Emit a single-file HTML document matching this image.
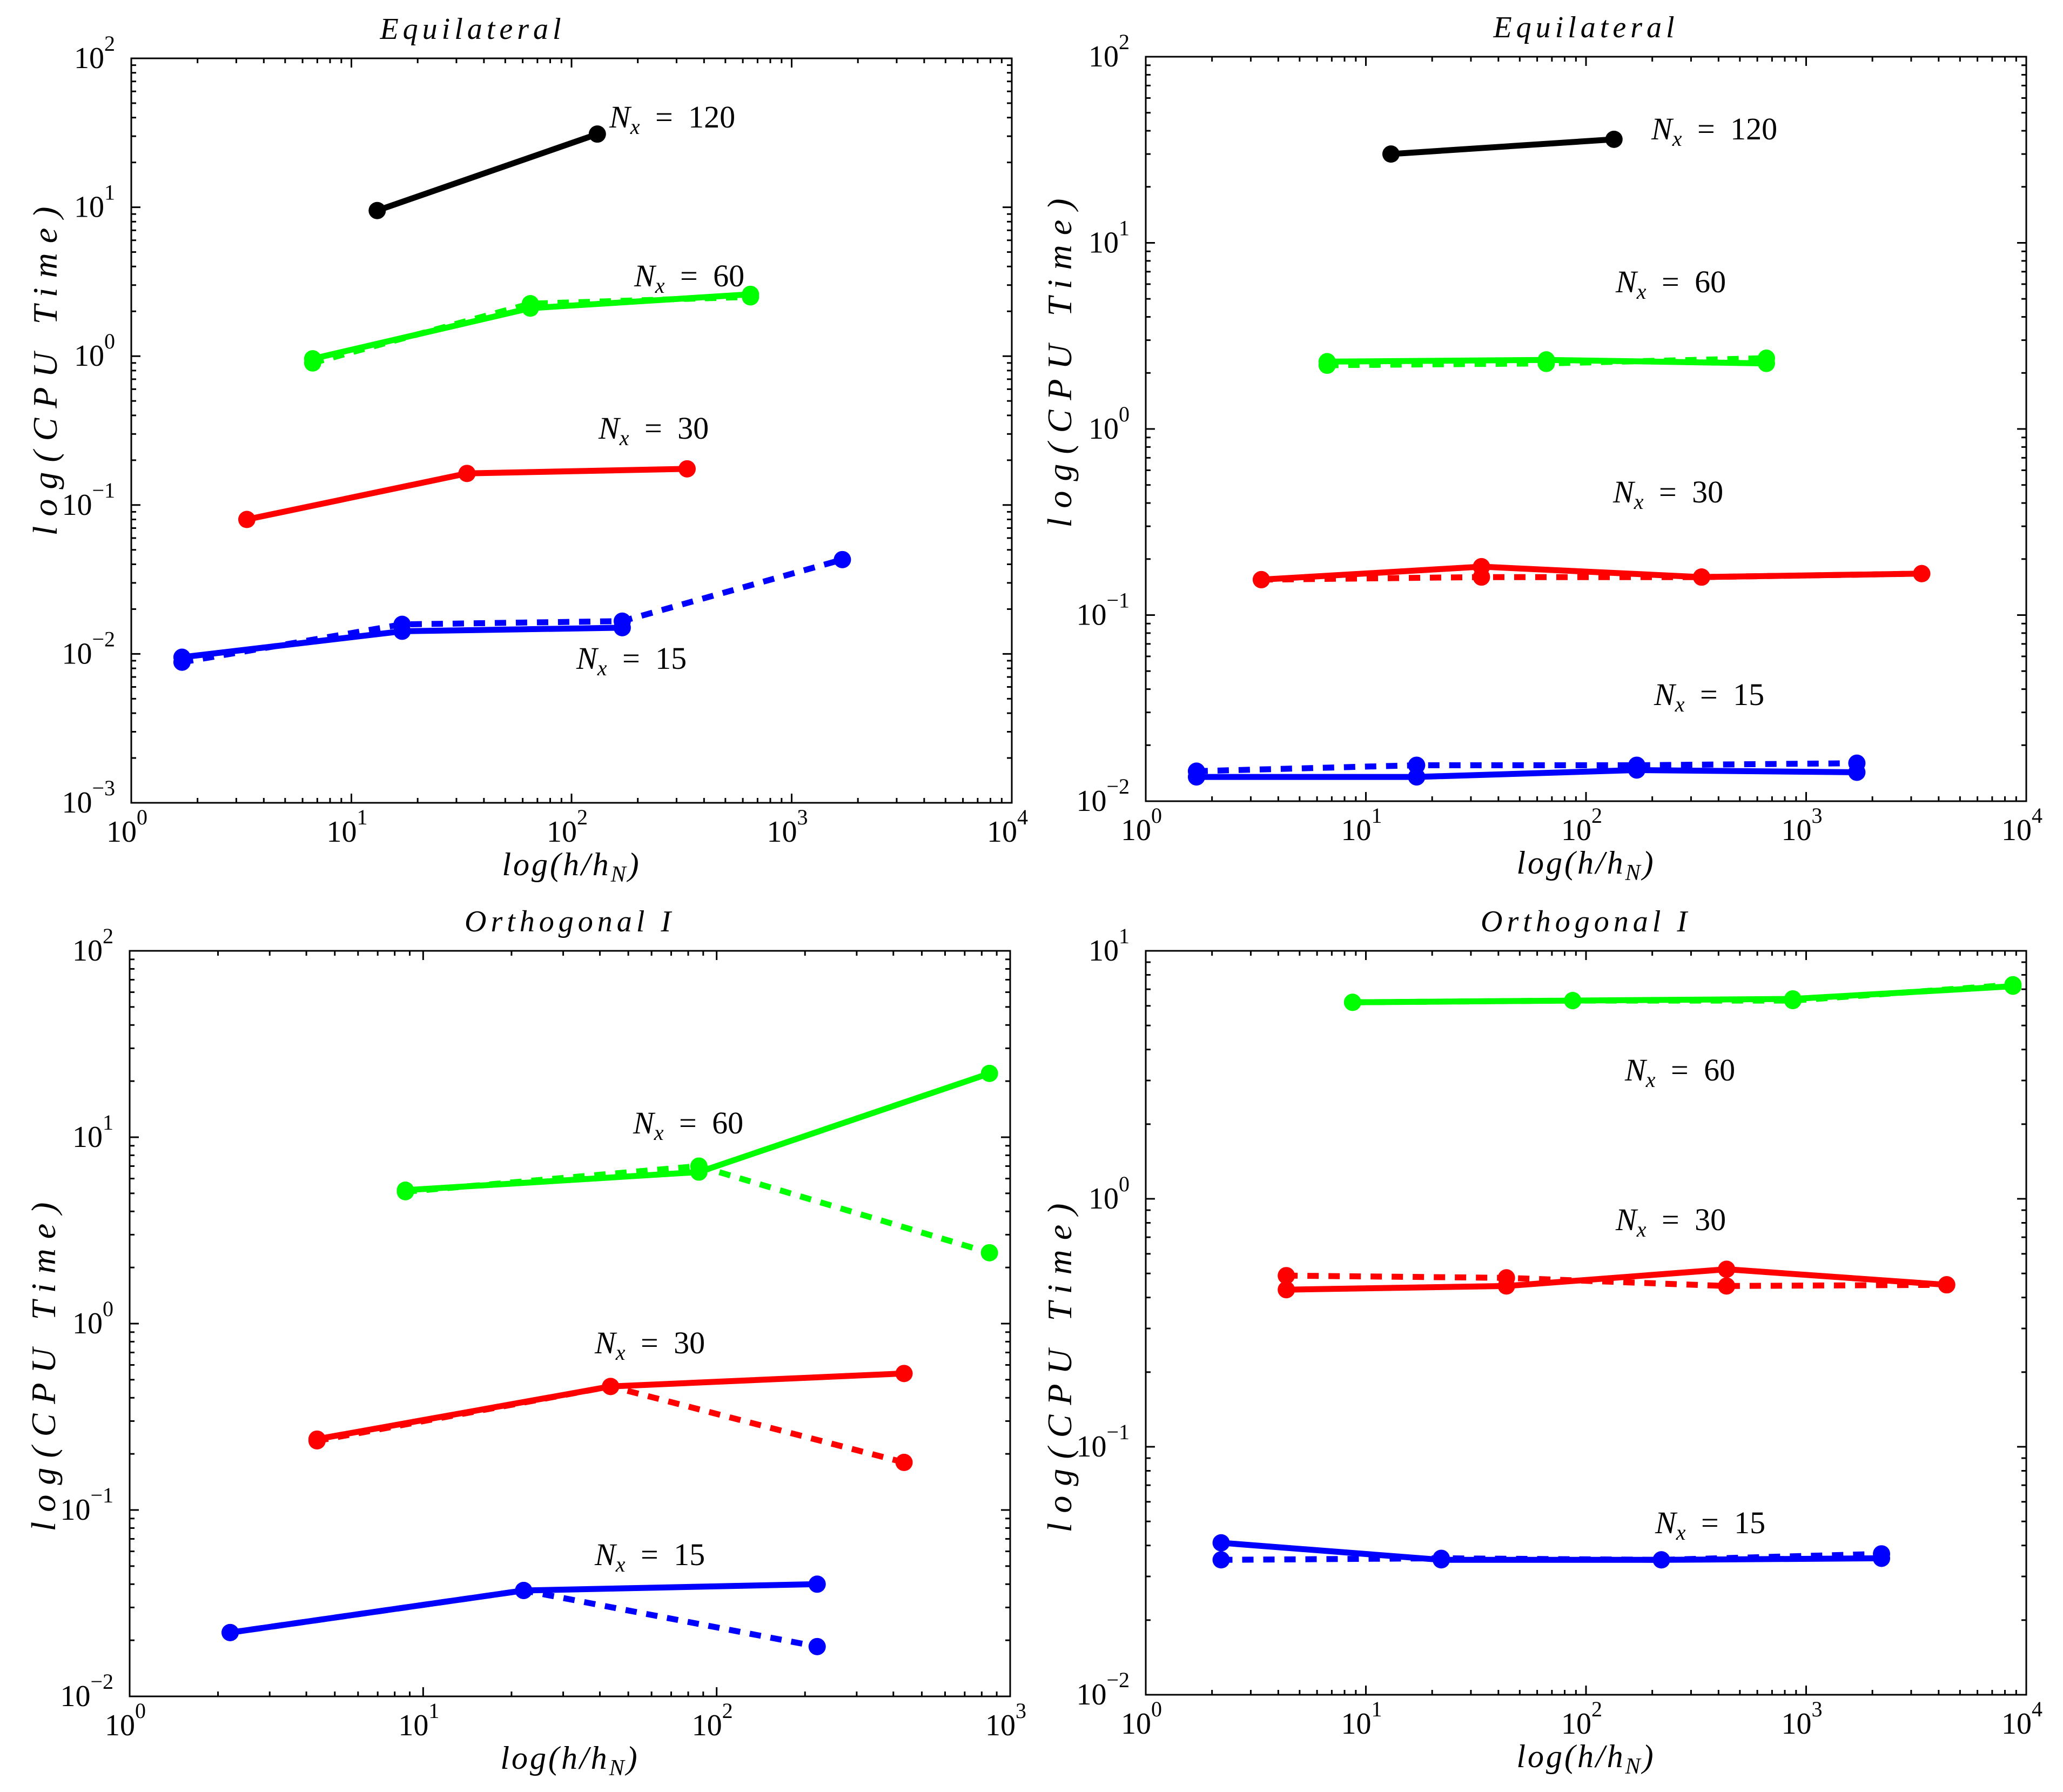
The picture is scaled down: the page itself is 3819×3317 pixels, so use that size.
<!DOCTYPE html>
<html><head><meta charset="utf-8"><style>
html,body{margin:0;padding:0;background:#fff;}
svg{display:block;}
text{font-family:"Liberation Serif",serif;fill:#000;}
</style></head><body>
<svg id="fig" xmlns="http://www.w3.org/2000/svg" width="3819" height="3317" viewBox="0 0 3819 3317"></svg>
<script>
// ---------- data (x = h/h_N, y = CPU time) ----------
// Panel A: top-left, Equilateral
const aBlackX = [13.1, 131];            const aBlackY = [9.5, 31];
const aGreenX = [6.67, 65, 650];        const aGreenSolid = [0.96, 2.1, 2.6]; const aGreenDash = [0.9, 2.25, 2.5];
const aRedX = [3.35, 33.5, 335];        const aRedSolid = [0.08, 0.163, 0.175];
const aBlueSolidX = [1.7, 17, 170];     const aBlueSolid = [0.0095, 0.0142, 0.0150];
const aBlueDashX = [1.7, 17, 170, 1700];const aBlueDash = [0.0088, 0.0158, 0.0166, 0.043];
// Panel B: top-right, Equilateral
const bBlackX = [13, 134];              const bBlackY = [30, 36];
const bGreenX = [6.67, 66, 660];        const bGreenSolid = [2.3, 2.35, 2.25]; const bGreenDash = [2.2, 2.25, 2.4];
const bRedX = [3.35, 33.5, 335, 3350];  const bRedSolid = [0.155, 0.182, 0.16, 0.167]; const bRedDash = [0.155, 0.16, 0.16, 0.167];
const bBlueX = [1.7, 17, 170, 1700];    const bBlueSolid = [0.0135, 0.0135, 0.0147, 0.0143]; const bBlueDash = [0.0145, 0.0156, 0.0156, 0.016];
// Panel C: bottom-left, Orthogonal I
const cGreenX = [8.7, 87, 850];         const cGreenSolid = [5.2, 6.5, 22]; const cGreenDash = [5.1, 7.0, 2.4];
const cRedX = [4.35, 43.5, 435];        const cRedSolid = [0.24, 0.46, 0.54]; const cRedDash = [0.235, 0.46, 0.18];
const cBlueX = [2.2, 22, 220];          const cBlueSolid = [0.022, 0.037, 0.040]; const cBlueDash = [0.022, 0.037, 0.0185];
// Panel D: bottom-right, Orthogonal I
const dGreenX = [8.7, 87, 870, 8700];   const dGreenSolid = [6.2, 6.3, 6.4, 7.2]; const dGreenDash = [6.2, 6.3, 6.3, 7.3];
const dRedX = [4.35, 43.5, 435, 4350];  const dRedSolid = [0.43, 0.445, 0.52, 0.45]; const dRedDash = [0.49, 0.48, 0.445, 0.45];
const dBlueX = [2.2, 22, 220, 2200];    const dBlueSolid = [0.041, 0.035, 0.035, 0.0355]; const dBlueDash = [0.035, 0.0355, 0.035, 0.037];

const NS = "http://www.w3.org/2000/svg";
const svg = document.getElementById('fig');
function mk(tag, attrs, parent){ const e=document.createElementNS(NS,tag); for(const k in attrs) e.setAttribute(k,attrs[k]); (parent||svg).appendChild(e); return e; }

function panel(cfg){
  const g = mk('g',{});
  
  
  const {L,T,R,B,x0,x1,y0,y1} = cfg;
  const sx = v => L + (Math.log10(v)-x0)/(x1-x0)*(R-L);
  const sy = v => B - (Math.log10(v)-y0)/(y1-y0)*(B-T);
  const tg = mk('g',{stroke:'#000','stroke-width':3},g);
  
  
  for(let d=x0; d<x1; d++){
    for(let m=1;m<10;m++){
      const x = sx(Math.pow(10,d)*m); const len = m===1?17:9;
      if(m===1 && d===x0) continue;
      mk('line',{x1:x,y1:B,x2:x,y2:B-len},tg); mk('line',{x1:x,y1:T,x2:x,y2:T+len},tg);
    }
  }
  for(let d=y0; d<y1; d++){
    for(let m=1;m<10;m++){
      const y = sy(Math.pow(10,d)*m); const len = m===1?17:9;
      if(m===1 && d===y0) continue;
      mk('line',{x1:L,y1:y,x2:L+len,y2:y},tg); mk('line',{x1:R,y1:y,x2:R-len,y2:y},tg);
    }
  }
  const box = mk('rect',{x:L,y:T,width:R-L,height:B-T,fill:'none',stroke:'#000','stroke-width':3},g);
  
  
  for(let d=x0; d<=x1; d++){
    const t = mk('text',{x:sx(Math.pow(10,d))-8,y:B+72,'font-size':56,'text-anchor':'middle'},g);
    
    
    t.textContent='10';
    const s = mk('tspan',{dy:-32,'font-size':40},t); s.textContent=String(d);
  }
  for(let d=y0; d<=y1; d++){
    const t = mk('text',{x:L-30,y:sy(Math.pow(10,d))+18,'font-size':56,'text-anchor':'end'},g);
    
    
    const a = mk('tspan',{},t); a.textContent='10';
    const s = mk('tspan',{dy:-32,'font-size':40},t); s.textContent=(d<0?'\u2212':'')+Math.abs(d);
  }
  const ti = mk('text',{x:cfg.titleX||(L+R)/2,y:T-36,'font-size':56,'font-style':'italic','text-anchor':'middle','letter-spacing':8},g);
  
  
  ti.textContent = cfg.title;
  const xl = mk('text',{x:(L+R)/2,y:B+134,'font-size':60,'font-style':'italic','text-anchor':'middle','letter-spacing':4},g);
  
  
  const xa = mk('tspan',{},xl); xa.textContent='log(h/h';
  const xb = mk('tspan',{dy:12,'font-size':42},xl); xb.textContent='N';
  const xc = mk('tspan',{dy:-12},xl); xc.textContent=')';
  const cy=cfg.ylabelY||(T+B)/2, cx=L-138;
  const yl = mk('text',{x:cx,y:cy,'font-size':64,'font-style':'italic','text-anchor':'middle','letter-spacing':18,transform:`rotate(-90 ${cx} ${cy})`},g);
  
  
  yl.textContent='log(CPU Time)';
  cfg.series.forEach(s=>{
    const sg = mk('g',{},g);
    
    
    const pts = s.x.map((v,i)=>sx(v).toFixed(1)+','+sy(s.y[i]).toFixed(1)).join(' ');
    const attrs = {points:pts,fill:'none',stroke:s.c,'stroke-width':11,'stroke-linejoin':'round'};
    if(s.dash) attrs['stroke-dasharray']='21 18';
    const pl = mk('polyline',attrs,sg);
    
    
    s.x.forEach((v,i)=>{
      const c = mk('circle',{cx:sx(v),cy:sy(s.y[i]),r:16,fill:s.c},sg);
      
      
    });
  });
  cfg.notes.forEach(n=>{
    const t = mk('text',{x:n[0],y:n[1],'font-size':58},g);
    
    
    const a = mk('tspan',{'font-style':'italic'},t); a.textContent='N';
    const b = mk('tspan',{dy:12,'font-size':40,'font-style':'italic'},t); b.textContent='x';
    const c = mk('tspan',{dy:-12,'word-spacing':14},t); c.textContent=' = '+n[2];
  });
}

panel({name:'panel-equilateral-left',title:'Equilateral',titleX:875,ylabelY:678,L:243,T:108,R:1873,B:1486,x0:0,x1:4,y0:-3,y1:2,
  series:[
    {name:'nx120-solid',x:aBlackX,y:aBlackY,c:'#000'},
    {name:'nx60-dashed',x:aGreenX,y:aGreenDash,c:'#00ff00',dash:1},
    {name:'nx60-solid',x:aGreenX,y:aGreenSolid,c:'#00ff00'},
    {name:'nx30-solid',x:aRedX,y:aRedSolid,c:'#ff0000'},
    {name:'nx15-dashed',x:aBlueDashX,y:aBlueDash,c:'#0000ff',dash:1},
    {name:'nx15-solid',x:aBlueSolidX,y:aBlueSolid,c:'#0000ff'}],
  notes:[[1128,236,'120'],[1174,530,'60'],[1108,812,'30'],[1067,1238,'15']]});

panel({name:'panel-equilateral-right',title:'Equilateral',ylabelY:663,L:2121,T:105,R:3751,B:1483,x0:0,x1:4,y0:-2,y1:2,
  series:[
    {name:'nx120-solid',x:bBlackX,y:bBlackY,c:'#000'},
    {name:'nx60-dashed',x:bGreenX,y:bGreenDash,c:'#00ff00',dash:1},
    {name:'nx60-solid',x:bGreenX,y:bGreenSolid,c:'#00ff00'},
    {name:'nx30-dashed',x:bRedX,y:bRedDash,c:'#ff0000',dash:1},
    {name:'nx30-solid',x:bRedX,y:bRedSolid,c:'#ff0000'},
    {name:'nx15-dashed',x:bBlueX,y:bBlueDash,c:'#0000ff',dash:1},
    {name:'nx15-solid',x:bBlueX,y:bBlueSolid,c:'#0000ff'}],
  notes:[[3057,258,'120'],[2991,541,'60'],[2986,930,'30'],[3062,1305,'15']]});

panel({name:'panel-orthogonal-left',title:'Orthogonal I',ylabelY:2521,L:240,T:1760,R:1870,B:3140,x0:0,x1:3,y0:-2,y1:2,
  series:[
    {name:'nx60-dashed',x:cGreenX,y:cGreenDash,c:'#00ff00',dash:1},
    {name:'nx60-solid',x:cGreenX,y:cGreenSolid,c:'#00ff00'},
    {name:'nx30-dashed',x:cRedX,y:cRedDash,c:'#ff0000',dash:1},
    {name:'nx30-solid',x:cRedX,y:cRedSolid,c:'#ff0000'},
    {name:'nx15-dashed',x:cBlueX,y:cBlueDash,c:'#0000ff',dash:1},
    {name:'nx15-solid',x:cBlueX,y:cBlueSolid,c:'#0000ff'}],
  notes:[[1172,2098,'60'],[1101,2505,'30'],[1101,2897,'15']]});

panel({name:'panel-orthogonal-right',title:'Orthogonal I',ylabelY:2523,L:2121,T:1760,R:3751,B:3137,x0:0,x1:4,y0:-2,y1:1,
  series:[
    {name:'nx60-dashed',x:dGreenX,y:dGreenDash,c:'#00ff00',dash:1},
    {name:'nx60-solid',x:dGreenX,y:dGreenSolid,c:'#00ff00'},
    {name:'nx30-dashed',x:dRedX,y:dRedDash,c:'#ff0000',dash:1},
    {name:'nx30-solid',x:dRedX,y:dRedSolid,c:'#ff0000'},
    {name:'nx15-dashed',x:dBlueX,y:dBlueDash,c:'#0000ff',dash:1},
    {name:'nx15-solid',x:dBlueX,y:dBlueSolid,c:'#0000ff'}],
  notes:[[3008,2000,'60'],[2991,2277,'30'],[3064,2838,'15']]});
</script>
</body></html>
